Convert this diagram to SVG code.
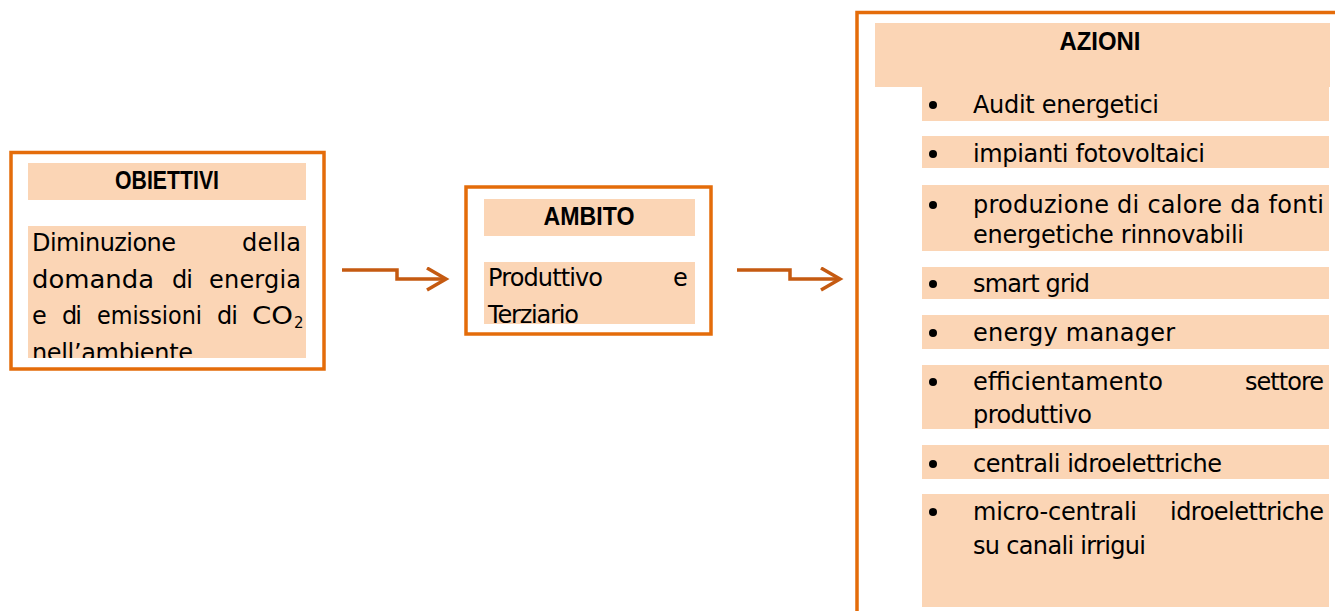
<svg xmlns="http://www.w3.org/2000/svg" width="1335" height="611" viewBox="0 0 1335 611">
  <style>
    .frame { fill: none; stroke: #E46C0A; stroke-width: 3.5; }
    .band { fill: #FBD5B5; }
    .head { font-family: "Liberation Sans", Arial, sans-serif; font-weight: bold; font-size: 25px; fill: #000; text-anchor: middle; }
    .txt { font-family: "DejaVu Sans", "Liberation Sans", sans-serif; font-size: 24px; fill: #000; }
    .sub { font-family: "DejaVu Sans", "Liberation Sans", sans-serif; font-size: 15px; fill: #000; }
    .dot { fill: #000; }
    .link { fill: none; stroke: #C55A11; stroke-width: 3.5; stroke-linejoin: miter; }
  </style>
  <defs>
    <marker id="chevron" markerUnits="userSpaceOnUse" markerWidth="26" markerHeight="28" refX="21" refY="12" orient="auto">
      <path d="M2,1 L21,12 L2,23" fill="none" stroke="#C55A11" stroke-width="3.5"/>
    </marker>
    <clipPath id="clipObiettivi"><rect x="28" y="226" width="278" height="132"/></clipPath>
    <clipPath id="clipAmbito"><rect x="484" y="262" width="211" height="62"/></clipPath>
  </defs>

  <rect width="1335" height="611" fill="#fff"/>

  <!-- Objectives box -->
  <g id="obiettivi">
    <rect class="frame" x="11" y="152.5" width="313" height="216.5"/>
    <rect class="band" x="28" y="163" width="278" height="37"/>
    <rect class="band" x="28" y="226" width="278" height="132"/>
    <text class="head" x="167" y="189" textLength="104" lengthAdjust="spacingAndGlyphs">OBIETTIVI</text>
    <g clip-path="url(#clipObiettivi)">
      <text class="txt" x="32" y="251" textLength="144">Diminuzione</text>
      <text class="txt" x="242" y="251" textLength="59">della</text>
      <text class="txt" x="32" y="288" textLength="122" lengthAdjust="spacingAndGlyphs">domanda</text>
      <text class="txt" x="172" y="288" textLength="21">di</text>
      <text class="txt" x="209" y="288" textLength="92">energia</text>
      <text class="txt" x="32" y="324" textLength="11">e</text>
      <text class="txt" x="62" y="324" textLength="20">di</text>
      <text class="txt" x="97" y="324" textLength="105" lengthAdjust="spacingAndGlyphs">emissioni</text>
      <text class="txt" x="217" y="324" textLength="21">di</text>
      <text class="txt" x="252" y="324" textLength="41" lengthAdjust="spacingAndGlyphs">CO</text>
      <text class="sub" x="294" y="328">2</text>
      <text class="txt" x="32" y="361" textLength="161">nell’ambiente</text>
    </g>
  </g>

  <!-- Scope box -->
  <g id="ambito">
    <rect class="frame" x="466" y="187" width="245" height="147"/>
    <rect class="band" x="484" y="199" width="211" height="37"/>
    <rect class="band" x="484" y="262" width="211" height="62"/>
    <text class="head" x="589" y="225" textLength="91" lengthAdjust="spacingAndGlyphs">AMBITO</text>
    <g clip-path="url(#clipAmbito)">
      <text class="txt" x="488" y="286" textLength="115">Produttivo</text>
      <text class="txt" x="673" y="286" textLength="17">e</text>
      <text class="txt" x="488" y="323" textLength="91">Terziario</text>
    </g>
  </g>

  <!-- Actions box -->
  <g id="azioni">
    <rect class="frame" x="857" y="12.5" width="600" height="700"/>
    <rect class="band" x="875" y="23" width="455" height="64"/>
    <text class="head" x="1100" y="50" textLength="81" lengthAdjust="spacingAndGlyphs">AZIONI</text>

    <rect class="band" x="922" y="87" width="407" height="34"/>
    <rect class="band" x="922" y="136" width="407" height="32"/>
    <rect class="band" x="922" y="185" width="407" height="66"/>
    <rect class="band" x="922" y="267" width="407" height="32"/>
    <rect class="band" x="922" y="315" width="407" height="34"/>
    <rect class="band" x="922" y="365" width="407" height="64"/>
    <rect class="band" x="922" y="445" width="407" height="34"/>
    <rect class="band" x="922" y="494" width="407" height="113"/>

    <circle class="dot" cx="933" cy="105" r="4"/>
    <text class="txt" x="973" y="113" textLength="186">Audit energetici</text>

    <circle class="dot" cx="933" cy="154" r="4"/>
    <text class="txt" x="973" y="162" textLength="232">impianti fotovoltaici</text>

    <circle class="dot" cx="933" cy="205" r="4"/>
    <text class="txt" x="973" y="213" textLength="351">produzione di calore da fonti</text>
    <text class="txt" x="973" y="243" textLength="271">energetiche rinnovabili</text>

    <circle class="dot" cx="933" cy="284" r="4"/>
    <text class="txt" x="973" y="292" textLength="117">smart grid</text>

    <circle class="dot" cx="933" cy="333" r="4"/>
    <text class="txt" x="973" y="341" textLength="202">energy manager</text>

    <circle class="dot" cx="933" cy="382" r="4"/>
    <text class="txt" x="973" y="390" textLength="190">efficientamento</text>
    <text class="txt" x="1245" y="390" textLength="79">settore</text>
    <text class="txt" x="973" y="423" textLength="119">produttivo</text>

    <circle class="dot" cx="933" cy="464" r="4"/>
    <text class="txt" x="973" y="472" textLength="249">centrali idroelettriche</text>

    <circle class="dot" cx="933" cy="512" r="4"/>
    <text class="txt" x="973" y="520" textLength="164">micro-centrali</text>
    <text class="txt" x="1170" y="520" textLength="154">idroelettriche</text>
    <text class="txt" x="973" y="554" textLength="173">su canali irrigui</text>
  </g>

  <!-- Stepped arrows between the boxes -->
  <g id="connectors">
    <path class="link" d="M342,270 H397 V279 H446" marker-end="url(#chevron)"/>
    <path class="link" d="M737,270 H790 V279 H840" marker-end="url(#chevron)"/>
  </g>
</svg>
